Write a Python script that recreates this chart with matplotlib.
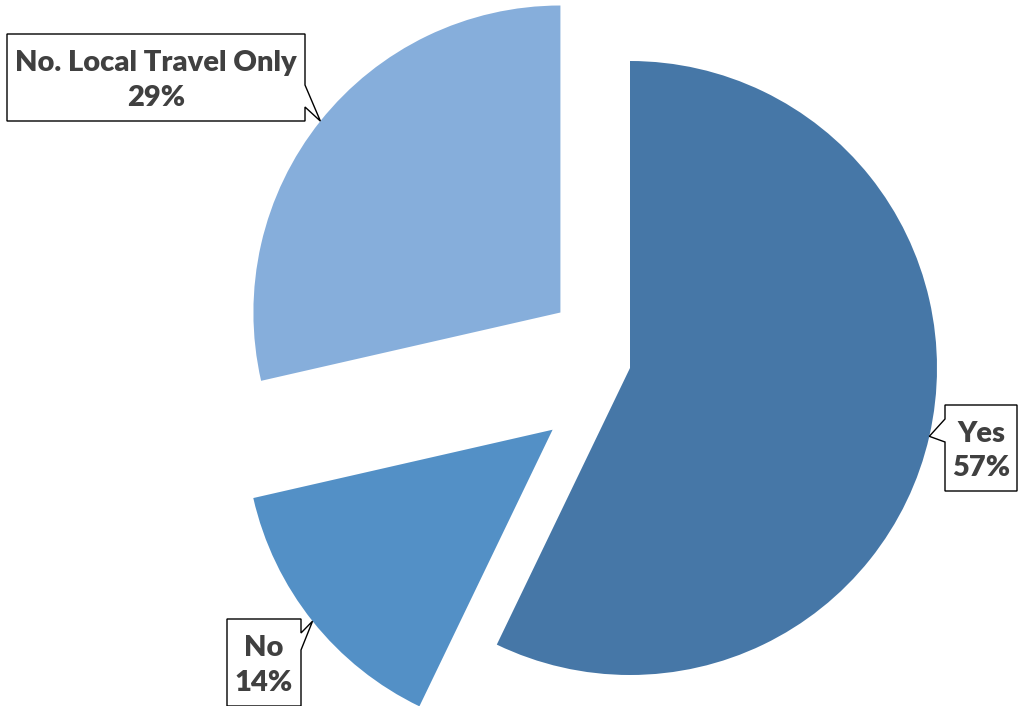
import numpy as np
import matplotlib.pyplot as plt
from matplotlib.patches import Polygon

W, H = 1026, 706

# data
labels = ['Yes', 'No', 'No. Local Travel Only']
counts = [4, 1, 2]
colors = ['#4677A7', '#5390C6', '#86AEDB']

plt.rcParams['font.family'] = ['Lato', 'DejaVu Sans']

fig = plt.figure(figsize=(W / 100, H / 100), dpi=100)
ax = fig.add_axes([0, 0, 1, 1])

# pie drawn in pixel units (y measured from bottom)
radius = 307
center = (630, H - 368)
explode = [0, 99, 89]

wedges, _ = ax.pie(counts, colors=colors, startangle=90, counterclock=False,
                   radius=radius, center=center, explode=explode,
                   wedgeprops=dict(linewidth=0))

ax.set_xlim(0, W)
ax.set_ylim(0, H)
ax.set_aspect('equal')
ax.axis('off')

# callout boxes: (left, top, right, bottom) in image pixels, pointer side, pointer base (y top, y bottom)
boxes = [
    ((945, 405, 1017, 491), 'left', (419, 442)),
    ((227, 619, 301, 706), 'right', (633, 650)),
    ((7, 34, 305, 121), 'right', (85, 107)),
]

total = sum(counts)
for w, lab, n, (box, side, base) in zip(wedges, labels, counts, boxes):
    mid = np.deg2rad((w.theta1 + w.theta2) / 2)
    tip = (w.center[0] + w.r * np.cos(mid), w.center[1] + w.r * np.sin(mid))
    l, t, r, b = box
    t, b = H - t, H - b
    b0, b1 = H - base[0], H - base[1]
    if side == 'left':
        pts = [(l, t), (r, t), (r, b), (l, b), (l, b1), tip, (l, b0)]
    else:
        pts = [(l, t), (r, t), (r, b0), tip, (r, b1), (r, b), (l, b)]
    ax.add_patch(Polygon(pts, closed=True, facecolor='white', edgecolor='black',
                         linewidth=1.0, zorder=3))
    pct = round(n / total * 100)
    ax.text((l + r) / 2, (t + b) / 2 - 3, f'{lab}\n{pct}%', ha='center', va='center',
            fontsize=21, fontweight='heavy', color='#404040', linespacing=1.4, zorder=4)

fig.savefig('out.png', dpi=100)
